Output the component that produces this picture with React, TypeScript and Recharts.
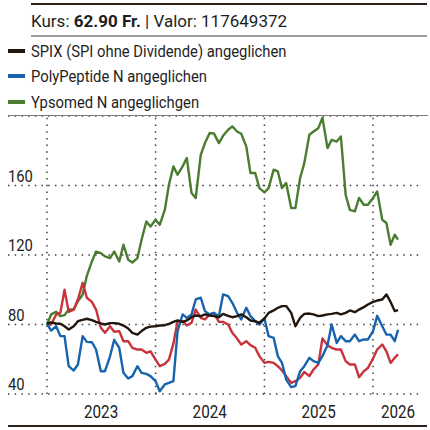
import React from 'react';
import { LineChart, Line, XAxis, YAxis, CartesianGrid, ReferenceLine } from 'recharts';

// semi-monthly samples, Jan 2023 .. Mar 2026
const dates = [
  '2023-01-01', '2023-01-15', '2023-02-01', '2023-02-15', '2023-03-01', '2023-03-15', '2023-04-01', '2023-04-15',
  '2023-05-01', '2023-05-15', '2023-06-01', '2023-06-15', '2023-07-01', '2023-07-15', '2023-08-01', '2023-08-15',
  '2023-09-01', '2023-09-15', '2023-10-01', '2023-10-15', '2023-11-01', '2023-11-15', '2023-12-01', '2023-12-15',
  '2024-01-01', '2024-01-15', '2024-02-01', '2024-02-15', '2024-03-01', '2024-03-15', '2024-04-01', '2024-04-15',
  '2024-05-01', '2024-05-15', '2024-06-01', '2024-06-15', '2024-07-01', '2024-07-15', '2024-08-01', '2024-08-15',
  '2024-09-01', '2024-09-15', '2024-10-01', '2024-10-15', '2024-11-01', '2024-11-15', '2024-12-01', '2024-12-15',
  '2025-01-01', '2025-01-15', '2025-02-01', '2025-02-15', '2025-03-01', '2025-03-15', '2025-04-01', '2025-04-15',
  '2025-05-01', '2025-05-15', '2025-06-01', '2025-06-15', '2025-07-01', '2025-07-15', '2025-08-01', '2025-08-15',
  '2025-09-01', '2025-09-15', '2025-10-01', '2025-10-15', '2025-11-01', '2025-11-15', '2025-12-01', '2025-12-15',
  '2026-01-01', '2026-01-15', '2026-02-01', '2026-02-15', '2026-03-01', '2026-03-15', '2026-03-26',
];

const kurs = [
  80, 80, 85.8, 86.7, 100, 87.3, 88.6, 94.4, 104, 95.4, 93, 88.6, 78.1, 75.2, 79, 75.8,
  76.2, 70.4, 70.4, 66.6, 65.6, 65.6, 63.7, 64.6, 59.8, 56, 57.3, 59.8, 69, 81.9, 81.9, 79.4,
  81, 88.6, 83.8, 82.9, 85.8, 86.7, 81.5, 81.5, 80, 75.2, 71.9, 68.5, 70.4, 68.1, 66.6, 61.8,
  57.9, 58.5, 57.9, 56, 53.5, 50.3, 46.4, 47.4, 49.3, 52.7, 50.3, 54.1, 57, 72, 68, 66.6,
  65.6, 65.6, 58.9, 57, 57, 49.7, 53.1, 55, 60.4, 65.6, 68.5, 64.6, 57.9, 60.8, 62.9,
];

const polyPeptide = [
  80.4, 76.5, 79, 73.3, 73.3, 56, 53.5, 57, 73.3, 70, 69.8, 65.6, 53.1, 53.1, 61.7, 71.2,
  66.5, 52.2, 48.9, 50.3, 56, 52.2, 51.6, 50.3, 47.4, 41.6, 45.5, 46.4, 47.4, 76.2, 85.8, 83.8,
  85.8, 94.4, 95.4, 87.7, 85.8, 86.7, 84.8, 97.3, 96.3, 92.5, 86.7, 82.9, 89.6, 84.8, 81.9, 80,
  83.5, 73.3, 72.3, 61.8, 57.9, 48.3, 44, 44.5, 53.1, 56, 60.8, 58.9, 57.9, 61.8, 68, 80,
  69.4, 73.3, 70.4, 70.4, 74.2, 70.4, 71.4, 71.4, 76.2, 85, 79, 74.2, 74.2, 70.4, 77,
];

const spix = [
  80.5, 81.2, 80.6, 80.4, 79, 77.1, 79, 81.9, 82.7, 83.3, 82.5, 81.5, 80.6, 80, 80.8, 80.8,
  80.4, 79.4, 77.7, 75.2, 74.2, 76.2, 78.1, 78.8, 79, 79.4, 79.6, 80.4, 81.5, 82.3, 81.5, 82.3,
  84.2, 85.2, 84.8, 85.8, 85.2, 84.8, 84.2, 86.1, 85, 84.2, 84.8, 85.8, 84.2, 82.3, 81.9, 81,
  83.5, 86.7, 88.1, 89.6, 90.6, 90.6, 86.7, 79, 83.8, 86.1, 86.3, 85.8, 84.8, 85.2, 85.8, 86.1,
  86.7, 85.8, 86.7, 88.1, 87.1, 88.6, 90, 91.5, 93, 93.8, 94.4, 97.3, 93, 87.7, 88.3,
];

const ypsomed = [
  80, 85.8, 87.3, 84.8, 85.4, 88.6, 88.6, 93.4, 97.3, 108, 116.3, 122, 121.1, 119.2, 118.2, 122,
  116.3, 125.9, 117.3, 115.7, 118.2, 128.8, 139.3, 136.4, 140.3, 137.4, 146, 160.4, 171, 166.2, 171, 175.8,
  155.7, 152.8, 177.7, 184.4, 190.2, 190, 184.4, 188.6, 192.1, 194, 191.1, 189.8, 182.5, 167.2, 167.2, 158.5,
  156, 158.5, 169.1, 168.1, 158.5, 161.4, 147, 147, 164.3, 172.9, 189.2, 191.1, 193, 199, 181.5, 186.3,
  185.3, 188.2, 154.7, 146, 145.1, 152.8, 148.9, 148.9, 152.8, 156.6, 140.3, 138.4, 125.9, 131.7, 128.8,
];

const yTicks = [40, 80, 120, 160];
const yDomain = [40, 200];
const yearStarts = ['2023-01-01', '2024-01-01', '2025-01-01', '2026-01-01'];
const yearLabelDates = ['2023-07-02', '2024-07-01', '2025-07-02', '2026-03-26'];
const yearLabels = ['2023', '2024', '2025', '2026'];
const xDomain = ['2022-08-23', '2026-06-18'];

const FONT = 'Roboto, "Noto Sans", sans-serif';
const SQUEEZE = 0.87;
const INK = '#2b211a';
const GRID = { stroke: '#3d3d3d', strokeWidth: 1.5, strokeDasharray: '1.5 5.2' };

const SERIES = [
  { key: 'spix', name: 'SPIX (SPI ohne Dividende) angeglichen', color: '#21170f', inLegend: true },
  { key: 'polyPeptide', name: 'PolyPeptide N angeglichen', color: '#1763ad', inLegend: true },
  { key: 'ypsomed', name: 'Ypsomed N angeglichgen', color: '#4a7d2f', inLegend: true },
  { key: 'kurs', name: 'Kurs', color: '#c9323b', inLegend: false },
];
const DRAW_ORDER = ['ypsomed', 'kurs', 'polyPeptide', 'spix'];

const toTime = (d: string) => Date.parse(d + 'T00:00:00Z');

const data = dates.map((d, i) => ({
  t: toTime(d),
  spix: spix[i],
  polyPeptide: polyPeptide[i],
  ypsomed: ypsomed[i],
  kurs: kurs[i],
}));

const labelByTime: Record<number, string> = {};
yearLabelDates.forEach((d, i) => { labelByTime[toTime(d)] = yearLabels[i]; });

function YTick({ x, y, payload }: any) {
  return (
    <g transform={`translate(${x},${y - 4})`}>
      <text transform={`scale(${SQUEEZE},1)`} fontSize={17} fontFamily={FONT} fill="#222" textAnchor="start">
        {payload.value}
      </text>
    </g>
  );
}

function XTick({ x, y, payload }: any) {
  return (
    <g transform={`translate(${x},${y + 24})`}>
      <text transform={`scale(${SQUEEZE},1)`} fontSize={17.5} fontFamily={FONT} fill="#222" textAnchor="middle">
        {labelByTime[payload.value]}
      </text>
    </g>
  );
}

const textBase: React.CSSProperties = {
  position: 'absolute',
  whiteSpace: 'nowrap',
  fontFamily: FONT,
  fontSize: 17,
  lineHeight: '20px',
  color: '#1e1e1e',
};
const squeezed: React.CSSProperties = {
  ...textBase,
  transform: `scaleX(${SQUEEZE})`,
  transformOrigin: 'left center',
};

function Rule({ top, left, width, height, color }: { top: number; left: number; width: number; height: number; color: string }) {
  return <div style={{ position: 'absolute', top, left, width, height, background: color }} />;
}

export default function App() {
  const legendRows = SERIES.filter(s => s.inLegend);
  return (
    <div style={{ position: 'absolute', left: 0, top: 0, width: 430, height: 430, background: '#fff', overflow: 'hidden' }}>
      <div style={{ position: 'absolute', left: 0, top: 0 }}>
        <LineChart width={430} height={430} data={data} margin={{ top: 116, right: 7, bottom: 6, left: 7 }}>
          <CartesianGrid vertical={false} {...GRID} />
          <XAxis
            dataKey="t"
            type="number"
            domain={xDomain.map(toTime)}
            ticks={yearLabelDates.map(toTime)}
            interval={0}
            height={30}
            axisLine={false}
            tickLine={false}
            tickSize={0}
            tickMargin={0}
            tick={<XTick />}
          />
          <YAxis
            type="number"
            domain={yDomain}
            ticks={yTicks}
            interval={0}
            width={1}
            axisLine={false}
            tickLine={false}
            tickSize={0}
            tickMargin={0}
            tick={<YTick />}
          />
          {yearStarts.map(d => (
            <ReferenceLine key={d} x={toTime(d)} {...GRID} />
          ))}
          {DRAW_ORDER.map(key => {
            const s = SERIES.find(v => v.key === key)!;
            return (
              <Line
                key={key}
                type="linear"
                dataKey={key}
                name={s.name}
                stroke={s.color}
                strokeWidth={2.4}
                strokeLinejoin="round"
                dot={false}
                activeDot={false}
                isAnimationActive={false}
              />
            );
          })}
        </LineChart>
      </div>

      <Rule top={3} left={31} width={396} height={2} color={INK} />
      <div style={{ ...textBase, left: 31, top: 11 }}>
        Kurs: <b>62.90 Fr.</b> | Valor: 117649372
      </div>
      <Rule top={35} left={31} width={396} height={1.5} color="#a39d98" />

      {legendRows.map((s, i) => (
        <React.Fragment key={s.key}>
          <Rule top={49 + i * 25.3} left={8} width={17} height={4} color={s.color} />
          <div style={{ ...squeezed, left: 31, top: 41 + i * 25.3 }}>{s.name}</div>
        </React.Fragment>
      ))}

      <Rule top={114.5} left={8} width={420} height={1.5} color="#857c75" />
      <Rule top={424.5} left={8} width={419} height={2} color={INK} />
    </div>
  );
}
